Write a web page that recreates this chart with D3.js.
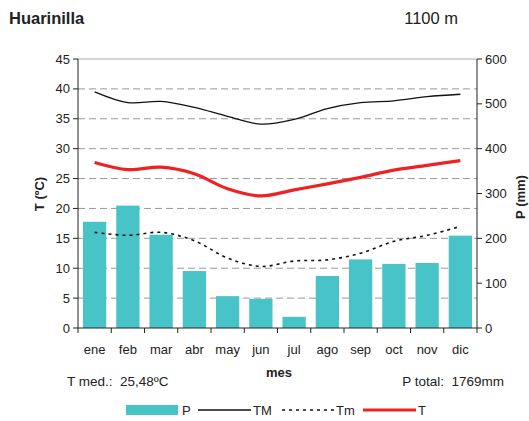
<!DOCTYPE html>
<html><head><meta charset="utf-8">
<script src="https://cdn.jsdelivr.net/npm/d3@7"></script>
<style>body{margin:0;background:#fff}svg{font-family:"Liberation Sans",Arial,sans-serif}</style>
</head><body><svg id="c" width="529" height="421"></svg>
<script>
const months = ["ene","feb","mar","abr","may","jun","jul","ago","sep","oct","nov","dic"];
const P  = [237,273,208,127,71,65,25,116,153,143,145,206];
const TM = [39.5,37.7,37.9,36.9,35.4,34.1,34.9,36.7,37.7,38.0,38.7,39.1];
const T  = [27.7,26.5,26.9,25.8,23.3,22.1,23.1,24.1,25.2,26.4,27.2,28.0];
const Tm = [16.0,15.5,16.0,14.6,11.7,10.3,11.2,11.4,12.5,14.5,15.5,17.0];
const tTicks = [0,5,10,15,20,25,30,35,40,45];
const pTicks = [0,100,200,300,400,500,600];

const svg = d3.select("#c");
const L = 78, R = 477, Tp = 59, B = 328;
const x = d3.scaleBand().domain(months).range([L,R]).paddingInner(0.3).paddingOuter(0.15);
const xb = d3.scaleBand().domain(months).range([L,R]);
const yT = d3.scaleLinear().domain([0,45]).range([B,Tp]);
const yP = d3.scaleLinear().domain([0,600]).range([B,Tp]);

// gridlines
svg.append("g").selectAll("line").data(tTicks.filter(d=>d>0 && d<45)).join("line")
  .attr("x1",L).attr("x2",R).attr("y1",d=>yT(d)).attr("y2",d=>yT(d))
  .attr("stroke","#999").attr("stroke-width",1).attr("stroke-dasharray","7,4");
svg.append("line").attr("x1",L).attr("x2",R).attr("y1",Tp).attr("y2",Tp).attr("stroke","#aaa");

// bars
svg.append("g").selectAll("rect").data(months).join("rect")
  .attr("x",d=>x(d)).attr("width",x.bandwidth())
  .attr("y",(d,i)=>yP(P[i])).attr("height",(d,i)=>B-yP(P[i]))
  .attr("fill","#48c3c7");

const cx = d => xb(d)+xb.bandwidth()/2;
const line = arr => d3.line().x((d,i)=>cx(months[i])).y(d=>yT(d)).curve(d3.curveCatmullRom.alpha(0.5))(arr);
svg.append("path").attr("d",line(Tm)).attr("fill","none").attr("stroke","#111").attr("stroke-width",1.6).attr("stroke-dasharray","3,4");
svg.append("path").attr("d",line(TM)).attr("fill","none").attr("stroke","#111").attr("stroke-width",1.3);
svg.append("path").attr("d",line(T)).attr("fill","none").attr("stroke","#ee2222").attr("stroke-width",3.2);

// axes
const ga = svg.append("g").attr("font-size",13).attr("fill","#222");
ga.append("line").attr("x1",L).attr("x2",L).attr("y1",Tp).attr("y2",B).attr("stroke","#222");
ga.append("line").attr("x1",R).attr("x2",R).attr("y1",Tp).attr("y2",B).attr("stroke","#222");
ga.append("line").attr("x1",L).attr("x2",R).attr("y1",B).attr("y2",B).attr("stroke","#222");
tTicks.forEach(t=>{
  ga.append("line").attr("x1",L-5).attr("x2",L).attr("y1",yT(t)).attr("y2",yT(t)).attr("stroke","#222");
  ga.append("text").attr("x",L-8).attr("y",yT(t)+4.5).attr("text-anchor","end").text(t);
});
pTicks.forEach(t=>{
  ga.append("line").attr("x1",R).attr("x2",R+5).attr("y1",yP(t)).attr("y2",yP(t)).attr("stroke","#222");
  ga.append("text").attr("x",R+8).attr("y",yP(t)+4.5).attr("text-anchor","start").text(t);
});
months.forEach((m,i)=>{
  ga.append("line").attr("x1",xb(m)).attr("x2",xb(m)).attr("y1",B).attr("y2",B+5).attr("stroke","#222");
  ga.append("text").attr("x",cx(m)).attr("y",354).attr("text-anchor","middle").text(m);
});
ga.append("line").attr("x1",R).attr("x2",R).attr("y1",B).attr("y2",B+5).attr("stroke","#222");

// titles
svg.append("text").attr("x",9).attr("y",24).attr("font-size",16.5).attr("font-weight","bold").attr("fill","#222").text("Huarinilla");
svg.append("text").attr("x",458).attr("y",24).attr("font-size",16.5).attr("text-anchor","end").attr("fill","#222").text("1100 m");
svg.append("text").attr("transform","translate(44,194) rotate(-90)").attr("font-size",13).attr("font-weight","bold").attr("text-anchor","middle").attr("fill","#222").text("T (ºC)");
svg.append("text").attr("transform","translate(525,197) rotate(-90)").attr("font-size",13).attr("font-weight","bold").attr("text-anchor","middle").attr("fill","#222").text("P (mm)");
svg.append("text").attr("x",279).attr("y",377).attr("font-size",13).attr("font-weight","bold").attr("text-anchor","middle").attr("fill","#222").text("mes");
svg.append("text").attr("x",67).attr("y",386).attr("font-size",13.5).attr("fill","#222").style("white-space","pre").text("T med.:  25,48ºC");
svg.append("text").attr("x",504).attr("y",386).attr("font-size",13.5).attr("text-anchor","end").attr("fill","#222").style("white-space","pre").text("P total:  1769mm");

// legend
const lg = svg.append("g").attr("font-size",13).attr("fill","#222");
const ly = 410;
lg.append("rect").attr("x",126).attr("y",ly-5).attr("width",52).attr("height",10).attr("fill","#48c3c7");
lg.append("text").attr("x",182).attr("y",ly+5).text("P");
lg.append("line").attr("x1",198).attr("x2",251).attr("y1",ly).attr("y2",ly).attr("stroke","#111").attr("stroke-width",1.3);
lg.append("text").attr("x",253).attr("y",ly+5).text("TM");
lg.append("line").attr("x1",282).attr("x2",334).attr("y1",ly).attr("y2",ly).attr("stroke","#111").attr("stroke-width",1.6).attr("stroke-dasharray","3,4");
lg.append("text").attr("x",336).attr("y",ly+5).text("Tm");
lg.append("line").attr("x1",363).attr("x2",416).attr("y1",ly).attr("y2",ly).attr("stroke","#ee2222").attr("stroke-width",3.2);
lg.append("text").attr("x",418).attr("y",ly+5).text("T");
</script></body></html>
